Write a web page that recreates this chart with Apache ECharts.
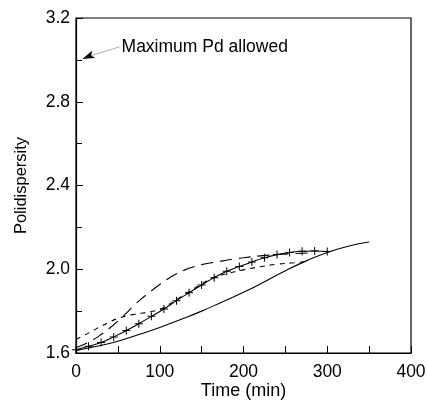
<!DOCTYPE html>
<html>
<head>
<meta charset="utf-8">
<script src="https://cdn.jsdelivr.net/npm/echarts@6/dist/echarts.min.js"></script>
<style>
  html, body { margin: 0; padding: 0; background: #fff; }
  #chart { width: 427px; height: 400px; }
</style>
</head>
<body>
<div id="chart"></div>
<script>
// values
var solid_x = [0, 25, 50, 75, 100, 125, 150, 175, 200, 225, 250, 275, 300, 325, 350]
var solid_y = [1.612, 1.632, 1.656, 1.688, 1.722, 1.76, 1.80, 1.845, 1.89, 1.94, 1.993, 2.04, 2.08, 2.11, 2.13]

var cross_x = [0, 15, 30, 45, 60, 75, 90, 105, 120, 135, 150, 165, 180, 195, 210, 225, 240, 255, 270, 285, 300]
var cross_y = [1.615, 1.632, 1.65, 1.677, 1.707, 1.74, 1.775, 1.81, 1.85, 1.888, 1.925, 1.96, 1.99, 2.013, 2.035, 2.055, 2.07, 2.08, 2.086, 2.087, 2.085]

var longdash_x = [0, 10, 20, 30, 40, 50, 60, 70, 80, 90, 100, 110, 120, 130, 140, 150, 160, 170, 180, 190, 200, 220, 240, 260, 280]
var longdash_y = [1.625, 1.642, 1.662, 1.688, 1.718, 1.752, 1.79, 1.83, 1.865, 1.897, 1.927, 1.955, 1.978, 1.997, 2.011, 2.022, 2.03, 2.037, 2.043, 2.05, 2.055, 2.064, 2.07, 2.075, 2.078]

var shortdash_x = [0, 10, 20, 30, 40, 50, 60, 70, 80, 90, 100, 110, 120, 130, 140, 150, 160, 170, 180, 190, 200, 220, 240, 260, 272]
var shortdash_y = [1.665, 1.685, 1.706, 1.728, 1.748, 1.765, 1.777, 1.785, 1.791, 1.798, 1.808, 1.83, 1.855, 1.88, 1.905, 1.93, 1.952, 1.968, 1.979, 1.988, 1.997, 2.012, 2.024, 2.031, 2.035]

var x_ticks = [0, 100, 200, 300, 400]
var y_ticks = [1.6, 2.0, 2.4, 2.8, 3.2]

var note_text = 'Maximum Pd allowed'
var note_from = [52, 3.062]
var note_head = [16, 3.018]
var note_to = [8, 3.005]

function pairs(xs, ys){
  var out = Array()
  xs.forEach(function(x, i){
    out.push([x, ys[i]])
  })
  return out
}

var chart_div = echarts.init(document.getElementById('chart'))
var font = 'Liberation Sans, Arial, sans-serif'
var plus = 'path://M3.5,0H4.5V3.5H8V4.5H4.5V8H3.5V4.5H0V3.5H3.5Z'

option = {
  animation: false,
  grid: {
    left: 76,
    right: 16,
    top: 18,
    bottom: 47,
    containLabel: false,
    outerBoundsMode: 'none',
    show: true,
    borderColor: '#000',
    borderWidth: 1.2
  },
  xAxis: {
    type: 'value',
    min: 0,
    max: 400,
    interval: 100,
    name: 'Time (min)',
    nameLocation: 'middle',
    nameGap: 29,
    nameMoveOverlap: false,
    nameTextStyle: { fontFamily: font, fontSize: 18, color: '#000' },
    axisLine: { show: true, lineStyle: { color: '#000', width: 1.2 } },
    axisTick: { show: true, inside: true, length: 7, lineStyle: { color: '#000' } },
    minorTick: { show: true, splitNumber: 2, length: 7, lineStyle: { color: '#000' } },
    axisLabel: {
      fontFamily: font, fontSize: 17.5, color: '#000', margin: 10,
      formatter: function(v){ return x_ticks.indexOf(v) >= 0 ? String(v) : '' }
    },
    splitLine: { show: false }
  },
  yAxis: {
    type: 'value',
    min: 1.6,
    max: 3.2,
    interval: 0.4,
    name: 'Polidispersity',
    nameLocation: 'middle',
    nameGap: 46,
    nameMoveOverlap: false,
    nameTextStyle: { fontFamily: font, fontSize: 16.5, color: '#000' },
    axisLine: { show: true, lineStyle: { color: '#000', width: 1.2 } },
    axisTick: { show: true, inside: true, length: 7, lineStyle: { color: '#000' } },
    minorTick: { show: true, splitNumber: 2, length: 6, lineStyle: { color: '#000' } },
    axisLabel: {
      fontFamily: font, fontSize: 17.5, color: '#000', margin: 6,
      formatter: function(v){
        var hit = y_ticks.filter(function(t){ return Math.abs(t - v) < 1e-6 })
        return hit.length ? hit[0].toFixed(1) : ''
      }
    },
    splitLine: { show: false }
  },
  series: [
    {
      name: 'solid',
      type: 'line',
      smooth: true,
      showSymbol: false,
      data: pairs(solid_x, solid_y),
      lineStyle: { color: '#000', width: 1.1 },
      markLine: {
        silent: true,
        symbol: ['none', 'none'],
        label: { show: false },
        data: [
          [{ coord: note_from, lineStyle: { color: '#999', width: 0.8, type: 'solid' } },
           { coord: note_head }],
          [{ coord: note_head, symbol: 'none', lineStyle: { color: '#000', width: 0.8, type: 'solid' } },
           { coord: note_to, symbol: 'arrow', symbolSize: [6, 12] }]
        ]
      },
      markPoint: {
        silent: true,
        symbol: 'circle',
        symbolSize: 0,
        data: [{ coord: note_from, value: note_text }],
        label: {
          show: true, position: 'right', distance: 2,
          fontFamily: font, fontSize: 17.5, color: '#000',
          formatter: note_text
        }
      }
    },
    {
      name: 'cross',
      type: 'line',
      smooth: true,
      symbol: plus,
      symbolSize: 8,
      showAllSymbol: true,
      data: pairs(cross_x, cross_y),
      itemStyle: { color: '#000' },
      lineStyle: { color: '#000', width: 1.1 }
    },
    {
      name: 'longdash',
      type: 'line',
      smooth: true,
      showSymbol: false,
      data: pairs(longdash_x, longdash_y),
      lineStyle: { color: '#000', width: 1.1, type: [12, 7] }
    },
    {
      name: 'shortdash',
      type: 'line',
      smooth: true,
      showSymbol: false,
      data: pairs(shortdash_x, shortdash_y),
      lineStyle: { color: '#000', width: 1.1, type: [5, 5] }
    }
  ]
};
chart_div.setOption(option, true);
</script>
</body>
</html>
